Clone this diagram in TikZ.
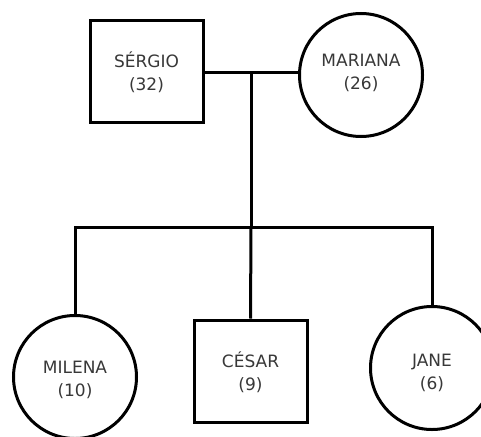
\documentclass[tikz,border=0pt]{standalone}
\usepackage{fontspec}
\setmainfont{DejaVu Sans}
\begin{document}
\begin{tikzpicture}[x=1pt,y=-1pt,
  person/.style={draw=black, line width=3pt, inner sep=0pt},
  male/.style={person, rectangle, minimum width=113pt, minimum height=102pt},
  female/.style={person, circle, minimum size=123pt},
  caption/.style={align=center, inner sep=0pt, text=black!78,
    font=\fontsize{17}{23}\selectfont},
  link/.style={draw=black, line width=3pt}]
  % page frame
  \fill[white] (0,0) rectangle (481,436);
  \useasboundingbox (0,0) rectangle (481,436);

  % parents
  \node[male, label={[caption, yshift=-1.2pt]center:{SÉRGIO\\(32)}}]
    (sergio) at (146.5,71.5) {};
  \node[female, label={[caption, yshift=1.6pt]center:{MARIANA\\(26)}}]
    (mariana) at (361,75) {};

  % children
  \node[female, label={[caption, yshift=-3.4pt]center:{MILENA\\(10)}}]
    (milena) at (75,377) {};
  \node[male, label={[caption, yshift=-1.7pt]center:{CÉSAR\\(9)}}]
    (cesar) at (250.5,371) {};
  \node[female, label={[caption, yshift=-5.4pt]center:{JANE\\(6)}}]
    (jane) at (432,368) {};

  % marriage line and descent
  \coordinate (couple) at (251,72);
  \coordinate (sibs)   at (251,227);
  \draw[link] (sergio.east |- couple) -- (mariana.west |- couple);
  \draw[link] (couple) -- (sibs);
  \draw[link] (milena.north) -- (milena.north |- sibs) -- (jane.north |- sibs) -- (jane.north);
  \draw[link] (sibs) -- (cesar.north);
\end{tikzpicture}
\end{document}
